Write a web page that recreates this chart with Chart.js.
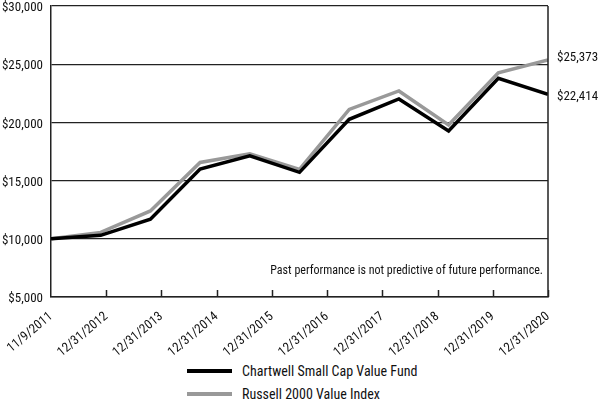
<!DOCTYPE html>
<html>
<head>
<meta charset="utf-8">
<script src="https://cdn.jsdelivr.net/npm/chart.js@4"></script>
<style>
  body { margin: 0; background: #fff; }
  #wrap { position: relative; width: 600px; height: 400px; overflow: hidden; }
  #legend { position: absolute; left: 187px; top: 359px; font-family: "Roboto Condensed", "Liberation Sans Narrow", "DejaVu Sans Condensed", Roboto, sans-serif; font-size: 14px; line-height: 16px; color: #111; }
  .row { display: flex; align-items: center; height: 23px; }
  .swatch { width: 45px; height: 4px; margin-right: 10px; }
</style>
</head>
<body>
<div id="wrap">
  <canvas id="growthChart" width="600" height="355"></canvas>
  <div id="legend"></div>
</div>
<script>
// tick labels along the bottom
const dateLabels = ['11/9/2011', '12/31/2012', '12/31/2013', '12/31/2014', '12/31/2015',
  '12/31/2016', '12/31/2017', '12/31/2018', '12/31/2019', '12/31/2020'];

// values of $10,000 invested (11 evenly spaced points)
const fundValues = [10000, 10300, 11680, 16000, 17120, 15710, 20270, 22010, 19260, 23790, 22414];
const indexValues = [10000, 10550, 12390, 16560, 17300, 15970, 21120, 22700, 19780, 24270, 25373];

const seriesNames = ['Chartwell Small Cap Value Fund', 'Russell 2000 Value Index'];
const seriesColors = ['#000000', '#999999'];
const footnote = 'Past performance is not predictive of future performance.';

const fontFamily = '"Roboto Condensed", "Liberation Sans Narrow", "DejaVu Sans Condensed", Roboto, sans-serif';

function money(v) {
    return '$' + Math.round(v).toLocaleString('en-US');
}

// Plugin: inner tick marks, right border, end labels and the footnote
const extras = {
    id: 'extras',
    afterDraw(chart) {
        const ctx = chart.ctx;
        const area = chart.chartArea;
        const xs = chart.scales.x;
        const yd = chart.scales.y;
        ctx.save();
        ctx.strokeStyle = '#222';
        ctx.lineWidth = 1.5;
        ctx.beginPath();
        for (let i = 1; i < dateLabels.length; i++) {
            const px = Math.round(xs.getPixelForTick(i)) + 0.5;
            ctx.moveTo(px, area.bottom);
            ctx.lineTo(px, area.bottom - 7);
        }
        ctx.moveTo(area.right, area.top);
        ctx.lineTo(area.right, area.bottom);
        ctx.stroke();

        ctx.font = '13px ' + fontFamily;
        ctx.fillStyle = '#111';
        ctx.textBaseline = 'middle';
        ctx.textAlign = 'left';
        const last = fundValues.length - 1;
        ctx.fillText(money(indexValues[last]), area.right + 9, yd.getPixelForValue(indexValues[last]) - 2);
        ctx.fillText(money(fundValues[last]), area.right + 9, yd.getPixelForValue(fundValues[last]) + 2);

        ctx.font = '12px ' + fontFamily;
        ctx.textAlign = 'right';
        ctx.fillText(footnote, area.right - 5, area.bottom - 26);
        ctx.restore();
    }
};

const ctx = document.getElementById('growthChart').getContext('2d');
new Chart(ctx, {
    type: 'line',
    data: {
        labels: dateLabels,
        datasets: [{
            label: seriesNames[0],
            data: fundValues.map((v, i) => ({ x: i, y: v })),
            borderColor: seriesColors[0],
            borderWidth: 3.5,
            pointRadius: 0,
            tension: 0,
            xAxisID: 'xd'
        }, {
            label: seriesNames[1],
            data: indexValues.map((v, i) => ({ x: i, y: v })),
            borderColor: seriesColors[1],
            borderWidth: 3.5,
            pointRadius: 0,
            tension: 0,
            xAxisID: 'xd'
        }]
    },
    options: {
        responsive: false,
        animation: false,
        layout: { padding: { left: 0, right: 52, top: 6, bottom: 0 } },
        plugins: {
            legend: { display: false },
            tooltip: { enabled: false }
        },
        scales: {
            x: {
                type: 'category',
                offset: false,
                grid: { display: false },
                border: { display: true, color: '#222', width: 1.5 },
                ticks: {
                    minRotation: 40,
                    maxRotation: 40,
                    autoSkip: false,
                    padding: 4,
                    color: '#111',
                    font: { family: fontFamily, size: 13 }
                },
                afterFit(scale) { scale.height = 58; }
            },
            xd: {
                type: 'linear',
                display: false,
                min: 0,
                max: fundValues.length - 1
            },
            y: {
                min: 5000,
                max: 30000,
                ticks: {
                    stepSize: 5000,
                    padding: 8,
                    labelOffset: 2,
                    color: '#111',
                    font: { family: fontFamily, size: 13 },
                    callback: v => money(v)
                },
                grid: { color: '#222', lineWidth: 1.2, drawTicks: false },
                border: { display: true, color: '#222', width: 1.5 },
                afterFit(scale) {
                    scale.width = 51;
                    scale.paddingTop = 0;
                    scale.paddingBottom = 0;
                }
            }
        }
    },
    plugins: [extras]
});

// two-row legend under the chart
const legend = document.getElementById('legend');
seriesNames.forEach((name, i) => {
    const row = document.createElement('div');
    row.className = 'row';
    const sw = document.createElement('span');
    sw.className = 'swatch';
    sw.style.background = seriesColors[i];
    const txt = document.createElement('span');
    txt.textContent = name;
    row.appendChild(sw);
    row.appendChild(txt);
    legend.appendChild(row);
});
</script>
</body>
</html>
